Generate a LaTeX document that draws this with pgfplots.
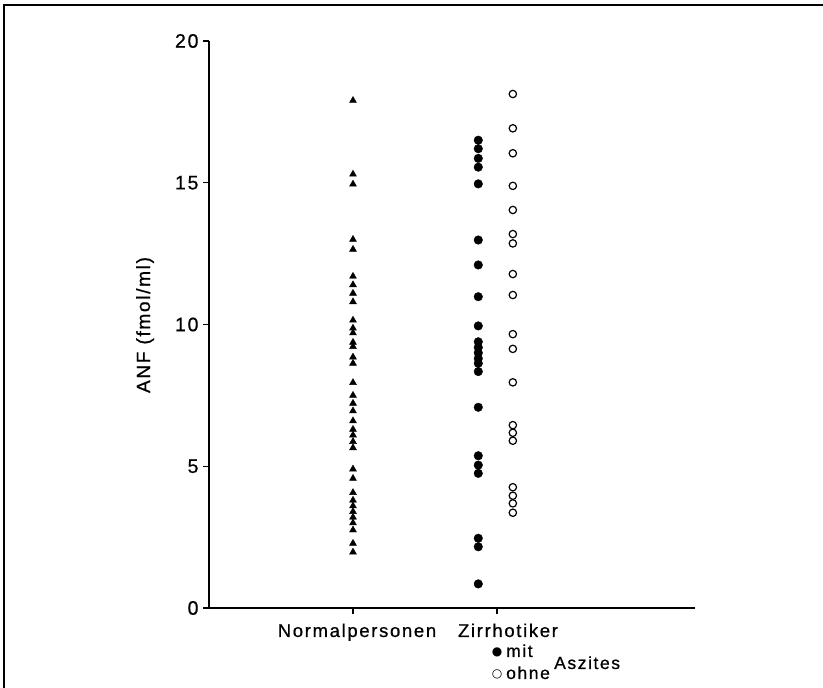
\documentclass[border=0pt]{standalone}
\usepackage{fontspec}
\setmainfont{Liberation Sans}
\newfontfamily\symfont{DejaVu Sans}
\usepackage{pgfplots}
\pgfplotsset{compat=1.18}
\newfontfamily\lsp[LetterSpace=9,FakeBold=0.7]{Liberation Sans}
\begin{document}
\begin{tikzpicture}[x=1pt,y=1pt]
\path[use as bounding box] (0,0) rectangle (823,688);
\draw[line width=1.3pt] (4,0) -- (4,683) -- (823,683);
\begin{axis}[at={(209pt,80pt)}, anchor=south west, scale only axis,
  width=486pt, height=567pt,
  xmin=0, xmax=3.375, ymin=0, ymax=20,
  axis x line=bottom, axis y line=left,
  axis line style={-, line width=1.5pt},
  ytick={0,5,10,15,20}, xtick={1,2}, xticklabels={},
  tick style={line width=1.3pt, black}, tick align=outside, major tick length=6pt,
  /pgf/number format/assume math mode=true,
  yticklabel style={font=\lsp\fontsize{19.5}{22}\selectfont, xshift=-1pt},
  clip=false]
\addplot[only marks, mark=triangle*, mark size=4pt, black] coordinates {
(1,17.9) (1,15.3) (1,14.95) (1,13.0) (1,12.65) (1,11.7) (1,11.4) (1,11.1) (1,10.8)
(1,10.15) (1,9.87) (1,9.7) (1,9.37) (1,9.22) (1,8.85) (1,8.63) (1,7.95) (1,7.5)
(1,7.22) (1,6.95) (1,6.6) (1,6.3) (1,6.1) (1,5.87) (1,5.65) (1,4.9) (1,4.57)
(1,4.07) (1,3.8) (1,3.6) (1,3.4) (1,3.2) (1,3.0) (1,2.75) (1,2.28) (1,1.97)};
\addplot[only marks, mark=*, mark size=4.3pt, black] coordinates {
(1.87,16.5) (1.87,16.2) (1.87,15.86) (1.87,15.55) (1.87,14.96) (1.87,12.98)
(1.87,12.1) (1.87,10.98) (1.87,9.95) (1.87,9.39) (1.87,9.19) (1.87,9.0)
(1.87,8.8) (1.87,8.63) (1.87,8.34) (1.87,7.08) (1.87,5.37) (1.87,5.04)
(1.87,4.75) (1.87,2.46) (1.87,2.16) (1.87,0.85)};
\addplot[only marks, mark=o, mark size=3.7pt, mark options={line width=1.2pt}, black] coordinates {
(2.11,18.13) (2.11,16.92) (2.11,16.04) (2.11,14.89) (2.11,14.04) (2.11,13.19)
(2.11,12.86) (2.11,11.78) (2.11,11.04) (2.11,9.66) (2.11,9.14) (2.11,7.96)
(2.11,6.45) (2.11,6.18) (2.11,5.9) (2.11,4.26) (2.11,3.96) (2.11,3.69) (2.11,3.36)};
\end{axis}
\node[font=\lsp\fontsize{18.5}{20}\selectfont, anchor=base] at (357,51) {Normalpersonen};
\node[font=\lsp\fontsize{18.5}{20}\selectfont, anchor=base] at (508,51) {Zirrhotiker};
\node[font=\lsp\fontsize{19}{20}\selectfont, rotate=90, anchor=base, inner sep=0pt] at (150,363) {ANF (fmol/ml)};
\node[font=\symfont\fontsize{12}{12}\selectfont, anchor=base, inner sep=0pt] at (497,32) {●};
\node[font=\symfont\fontsize{12}{12}\selectfont, anchor=base, inner sep=0pt] at (497,10) {○};
\node[font=\lsp\fontsize{17.5}{18}\selectfont, anchor=base west, inner sep=0pt] at (506,31) {mit};
\node[font=\lsp\fontsize{17.5}{18}\selectfont, anchor=base west, inner sep=0pt] at (506,9) {ohne};
\node[font=\lsp\fontsize{17.5}{18}\selectfont, anchor=base west, inner sep=0pt] at (554,19) {Aszites};
\end{tikzpicture}
\end{document}
